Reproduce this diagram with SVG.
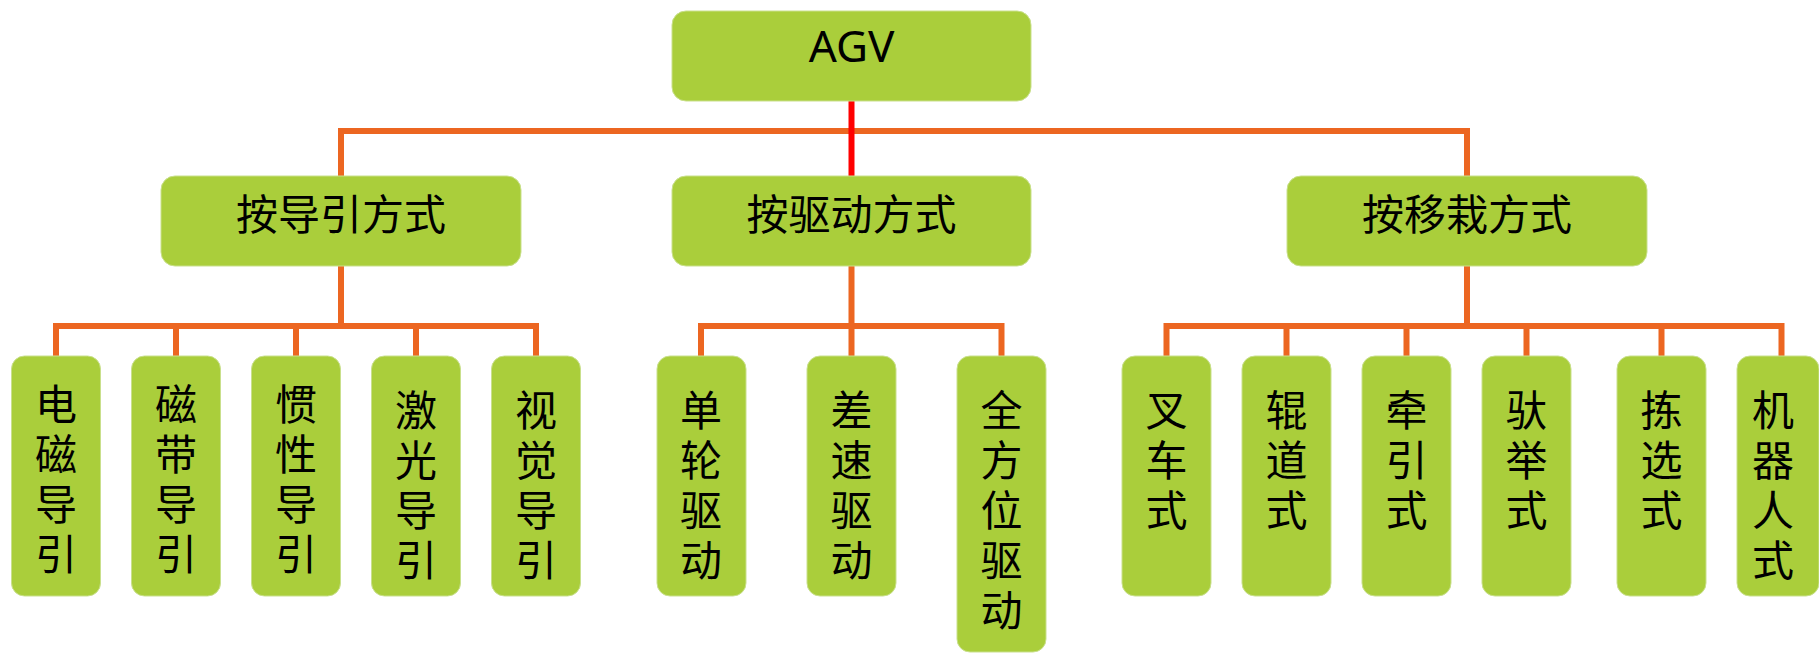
<svg xmlns="http://www.w3.org/2000/svg" width="1819" height="653" viewBox="0 0 1819 653">
<style>
.box{fill:#AACE3B;stroke:#C9E08C;stroke-width:1}
.ln{fill:none;stroke:#EC6621;stroke-width:6}
.red{fill:none;stroke:#FF0000;stroke-width:6}
.t{font-family:"Noto Sans CJK SC","Noto Sans",sans-serif;font-size:42px;fill:#000;text-anchor:middle}
.agv{font-family:"Noto Sans","Noto Sans CJK SC",sans-serif;font-size:44px;fill:#000;text-anchor:middle}
</style>
<rect width="1819" height="653" fill="#fff"/>
<g id="connectors">
<path class="ln" d="M341,176 V131 H1467 V176"/>
<path class="red" d="M851.5,101 V176"/>
<path class="ln" d="M341,266 V326 M56,356 V326 H536 V356 M176,326 V356 M296,326 V356 M416,326 V356"/>
<path class="ln" d="M851.5,266 V356 M701,356 V326 H1001.5 V356"/>
<path class="ln" d="M1467,266 V326 M1166.5,356 V326 H1781.5 V356 M1286.5,326 V356 M1406.5,326 V356 M1526.5,326 V356 M1661.5,326 V356"/>
</g>
<g id="agv"><rect class="box" x="672" y="11" width="359" height="90" rx="14"/><text class="agv" x="851.5" y="62">AGV</text></g>
<g id="guide"><rect class="box" x="161" y="176" width="360" height="90" rx="14"/><text class="t" x="341" y="230">按导引方式</text></g>
<g id="drive"><rect class="box" x="672" y="176" width="359" height="90" rx="14"/><text class="t" x="851.5" y="230">按驱动方式</text></g>
<g id="transfer"><rect class="box" x="1287" y="176" width="360" height="90" rx="14"/><text class="t" x="1467" y="230">按移栽方式</text></g>

<g id="g1"><rect class="box" x="11.5" y="356" width="89" height="240" rx="13"/><text class="t" x="56" y="420"><tspan x="56">电</tspan><tspan x="56" dy="50">磁</tspan><tspan x="56" dy="50">导</tspan><tspan x="56" dy="50">引</tspan></text></g>
<g id="g2"><rect class="box" x="131.5" y="356" width="89" height="240" rx="13"/><text class="t" x="176" y="420"><tspan x="176">磁</tspan><tspan x="176" dy="50">带</tspan><tspan x="176" dy="50">导</tspan><tspan x="176" dy="50">引</tspan></text></g>
<g id="g3"><rect class="box" x="251.5" y="356" width="89" height="240" rx="13"/><text class="t" x="296" y="420"><tspan x="296">惯</tspan><tspan x="296" dy="50">性</tspan><tspan x="296" dy="50">导</tspan><tspan x="296" dy="50">引</tspan></text></g>
<g id="g4"><rect class="box" x="371.5" y="356" width="89" height="240" rx="13"/><text class="t" x="416" y="426"><tspan x="416">激</tspan><tspan x="416" dy="50">光</tspan><tspan x="416" dy="50">导</tspan><tspan x="416" dy="50">引</tspan></text></g>
<g id="g5"><rect class="box" x="491.5" y="356" width="89" height="240" rx="13"/><text class="t" x="536" y="426"><tspan x="536">视</tspan><tspan x="536" dy="50">觉</tspan><tspan x="536" dy="50">导</tspan><tspan x="536" dy="50">引</tspan></text></g>

<g id="d1"><rect class="box" x="657" y="356" width="89" height="240" rx="13"/><text class="t" x="701" y="426"><tspan x="701">单</tspan><tspan x="701" dy="50">轮</tspan><tspan x="701" dy="50">驱</tspan><tspan x="701" dy="50">动</tspan></text></g>
<g id="d2"><rect class="box" x="807" y="356" width="89" height="240" rx="13"/><text class="t" x="851.5" y="426"><tspan x="851.5">差</tspan><tspan x="851.5" dy="50">速</tspan><tspan x="851.5" dy="50">驱</tspan><tspan x="851.5" dy="50">动</tspan></text></g>
<g id="d3"><rect class="box" x="957" y="356" width="89" height="296" rx="13"/><text class="t" x="1001.5" y="426"><tspan x="1001.5">全</tspan><tspan x="1001.5" dy="50">方</tspan><tspan x="1001.5" dy="50">位</tspan><tspan x="1001.5" dy="50">驱</tspan><tspan x="1001.5" dy="50">动</tspan></text></g>

<g id="t1"><rect class="box" x="1122" y="356" width="89" height="240" rx="13"/><text class="t" x="1166.5" y="426"><tspan x="1166.5">叉</tspan><tspan x="1166.5" dy="50">车</tspan><tspan x="1166.5" dy="50">式</tspan></text></g>
<g id="t2"><rect class="box" x="1242" y="356" width="89" height="240" rx="13"/><text class="t" x="1286.5" y="426"><tspan x="1286.5">辊</tspan><tspan x="1286.5" dy="50">道</tspan><tspan x="1286.5" dy="50">式</tspan></text></g>
<g id="t3"><rect class="box" x="1362" y="356" width="89" height="240" rx="13"/><text class="t" x="1406.5" y="426"><tspan x="1406.5">牵</tspan><tspan x="1406.5" dy="50">引</tspan><tspan x="1406.5" dy="50">式</tspan></text></g>
<g id="t4"><rect class="box" x="1482" y="356" width="89" height="240" rx="13"/><text class="t" x="1526.5" y="426"><tspan x="1526.5">驮</tspan><tspan x="1526.5" dy="50">举</tspan><tspan x="1526.5" dy="50">式</tspan></text></g>
<g id="t5"><rect class="box" x="1617" y="356" width="89" height="240" rx="13"/><text class="t" x="1661.5" y="426"><tspan x="1661.5">拣</tspan><tspan x="1661.5" dy="50">选</tspan><tspan x="1661.5" dy="50">式</tspan></text></g>
<g id="t6"><rect class="box" x="1737" y="356" width="82" height="240" rx="13"/><text class="t" x="1773" y="426"><tspan x="1773">机</tspan><tspan x="1773" dy="50">器</tspan><tspan x="1773" dy="50">人</tspan><tspan x="1773" dy="50">式</tspan></text></g>
</svg>
